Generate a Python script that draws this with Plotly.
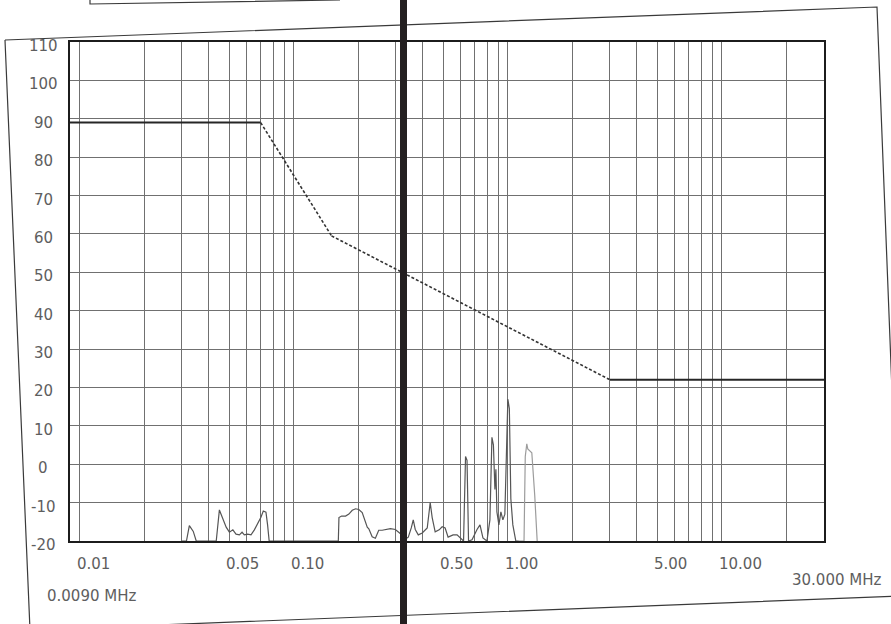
import numpy as np
import plotly.graph_objects as go

# Axis spans: frequency in MHz (log scale), level in dB
F_MIN, F_MAX = 0.009, 30.0
LEVEL_MIN, LEVEL_MAX = -20, 110

# Limit line corner points
limit_freq = [0.009, 0.07, 0.15, 3.0, 30.0]
limit_level = [89, 89, 59.5, 22, 22]

# Measured scan (main trace)
scan_freq = [
    0.0300, 0.0315, 0.0325, 0.0339, 0.0350,
    0.0434, 0.0449, 0.0466, 0.0483, 0.0500, 0.0519, 0.0537, 0.0557, 0.0573,
    0.0587, 0.0609, 0.0631, 0.0654, 0.0678, 0.0702, 0.0720, 0.0741, 0.0754, 0.0767,
    0.1614, 0.1625, 0.1672, 0.1745, 0.1808, 0.1875, 0.1943, 0.2012, 0.2087,
    0.2146, 0.2203, 0.2241, 0.2323, 0.2405, 0.2493, 0.2586, 0.2728, 0.2827,
    0.2981, 0.3214,
    0.3319, 0.3426, 0.3538, 0.3614, 0.3693, 0.3815, 0.3981, 0.4201, 0.4337,
    0.4431, 0.4575, 0.4776, 0.4932, 0.5093, 0.5258, 0.5549, 0.5791, 0.5978,
    0.6209, 0.6343, 0.6446, 0.6551, 0.6801, 0.7177, 0.7410, 0.7649, 0.7986,
    0.8245, 0.8426, 0.8562, 0.8700, 0.8793, 0.8889, 0.9082, 0.9278, 0.9478,
    0.9683, 1.0000, 1.0162, 1.0327, 1.0551, 1.0895, 1.1250,
]
scan_level = [
    -20, -20, -16.0, -17.5, -20,
    -20, -11.9, -14.3, -16.4, -17.7, -17.1, -18.2, -18.4, -17.7,
    -18.4, -18.2, -18.4, -17.1, -15.6, -13.8, -12.2, -12.5, -15.8, -20,
    -20, -13.9, -13.5, -13.5, -13.0, -12.0, -11.6, -11.8, -12.6,
    -14.7, -16.4, -16.8, -18.9, -19.3, -17.2, -17.2, -17.0, -16.8,
    -17.0, -18.5,
    -19.5, -19.0, -16.6, -14.5, -17.0, -18.4, -17.9, -16.6, -10.0,
    -13.9, -17.6, -17.1, -16.3, -16.6, -19.0, -18.4, -18.4, -19.2,
    -20, 2.0, 1.0, -20, -19.7, -17.0, -15.8, -19.2, -20,
    -14.5, 7.0, 5.0, -6.6, -1.3, -12.4, -15.8, -12.4, -14.5,
    -13.0, 17.0, 14.5, -9.0, -15.8, -20, -20,
]

# Second scan trace around 1.2 MHz
scan2_freq = [1.125, 1.190, 1.206, 1.226, 1.239, 1.266, 1.294, 1.335, 1.371]
scan2_level = [-20, -20, 2.0, 5.3, 4.0, 3.5, 3.0, -8.0, -20]

# Tick labels
y_ticks = [-20, -10, 0, 10, 20, 30, 40, 50, 60, 70, 80, 90, 100, 110]
x_ticks = [0.01, 0.05, 0.10, 0.50, 1.00, 5.00, 10.00]
x_tick_text = ["0.01", "0.05", "0.10", "0.50", "1.00", "5.00", "10.00"]
start_text = "0.0090 MHz"
stop_text = "30.000 MHz"

# Log grid: 1..9 per decade inside the span
x_grid = [k * 10.0 ** e for e in range(-2, 2) for k in range(1, 10)
          if F_MIN < k * 10.0 ** e < F_MAX]

FONT = "DejaVu Sans"
TXT = "#5e5e5e"

# Split the limit into flat (solid) and sloped (dotted) pieces
flat_x, flat_y, slope_x, slope_y = [], [], [], []
for i in range(len(limit_freq) - 1):
    sx = [limit_freq[i], limit_freq[i + 1], None]
    sy = [limit_level[i], limit_level[i + 1], None]
    if limit_level[i] == limit_level[i + 1]:
        flat_x += sx
        flat_y += sy
    else:
        slope_x += sx
        slope_y += sy

fig = go.Figure()
fig.add_trace(go.Scatter(x=scan_freq, y=scan_level, mode="lines",
                         line=dict(color="#555555", width=1.2)))
fig.add_trace(go.Scatter(x=scan2_freq, y=scan2_level, mode="lines",
                         line=dict(color="#9c9c9c", width=1.2)))
fig.add_trace(go.Scatter(x=flat_x, y=flat_y, mode="lines",
                         line=dict(color="#262626", width=2)))
fig.add_trace(go.Scatter(x=slope_x, y=slope_y, mode="lines",
                         line=dict(color="#333333", width=1.6, dash="3px,2px")))

# Plot area geometry in pixels (for the decorative page elements)
W, H = 891, 624
L, R, T, B = 70, 67, 42, 83
PW, PH = W - L - R, H - T - B


def px(x):
    return (x - L) / PW


def py(y):
    return (H - B - y) / PH


annotations = []
for v in y_ticks:
    annotations.append(dict(x=px(43), xref="paper", y=v, yref="y", text=str(v),
                            showarrow=False, xanchor="center", yanchor="middle",
                            yshift=-4, font=dict(family=FONT, size=15, color=TXT)))
for v, t in zip(x_ticks, x_tick_text):
    annotations.append(dict(x=np.log10(v), xref="x", y=py(564), yref="paper", text=t,
                            showarrow=False, xanchor="left", yanchor="middle",
                            xshift=-5, font=dict(family=FONT, size=15, color=TXT)))
annotations.append(dict(x=px(45), xref="paper", y=py(596), yref="paper", text=start_text,
                        showarrow=False, xanchor="left", yanchor="middle",
                        font=dict(family=FONT, size=15, color=TXT)))
annotations.append(dict(x=px(883), xref="paper", y=py(580), yref="paper", text=stop_text,
                        showarrow=False, xanchor="right", yanchor="middle",
                        font=dict(family=FONT, size=15, color=TXT)))


def path(points):
    return "M " + " L ".join(f"{px(a):.5f},{py(b):.5f}" for a, b in points)


shapes = [
    # outer page frame
    dict(type="path", xref="paper", yref="paper",
         path=path([(5, 40), (877, 7), (900, 596), (30, 630), (5, 40)]),
         line=dict(color="#3a3a3a", width=1.2)),
    # lower edge of the header box
    dict(type="path", xref="paper", yref="paper",
         path=path([(90, 0), (90, 4), (340, 0)]),
         line=dict(color="#3a3a3a", width=1.2)),
    # heavy vertical rule through the sheet
    dict(type="line", xref="paper", yref="paper",
         x0=px(403.5), x1=px(403.5), y0=py(0), y1=py(H),
         line=dict(color="#231f20", width=7)),
]

fig.update_layout(
    width=W, height=H,
    margin=dict(l=L, r=R, t=T, b=B, pad=0),
    paper_bgcolor="white", plot_bgcolor="white",
    showlegend=False,
    font=dict(family=FONT, size=15, color=TXT),
    annotations=annotations,
    shapes=shapes,
    xaxis=dict(type="log", range=[np.log10(F_MIN), np.log10(F_MAX)],
               tickvals=x_grid, showticklabels=False, ticks="",
               showgrid=True, gridcolor="#707070", gridwidth=1.2,
               showline=True, linecolor="#1c1c1c", linewidth=2, mirror=True,
               zeroline=False),
    yaxis=dict(range=[LEVEL_MIN, LEVEL_MAX], tickvals=y_ticks,
               showticklabels=False, ticks="",
               showgrid=True, gridcolor="#707070", gridwidth=1.2,
               showline=True, linecolor="#1c1c1c", linewidth=2, mirror=True,
               zeroline=False),
)

fig.write_html("out.html")
